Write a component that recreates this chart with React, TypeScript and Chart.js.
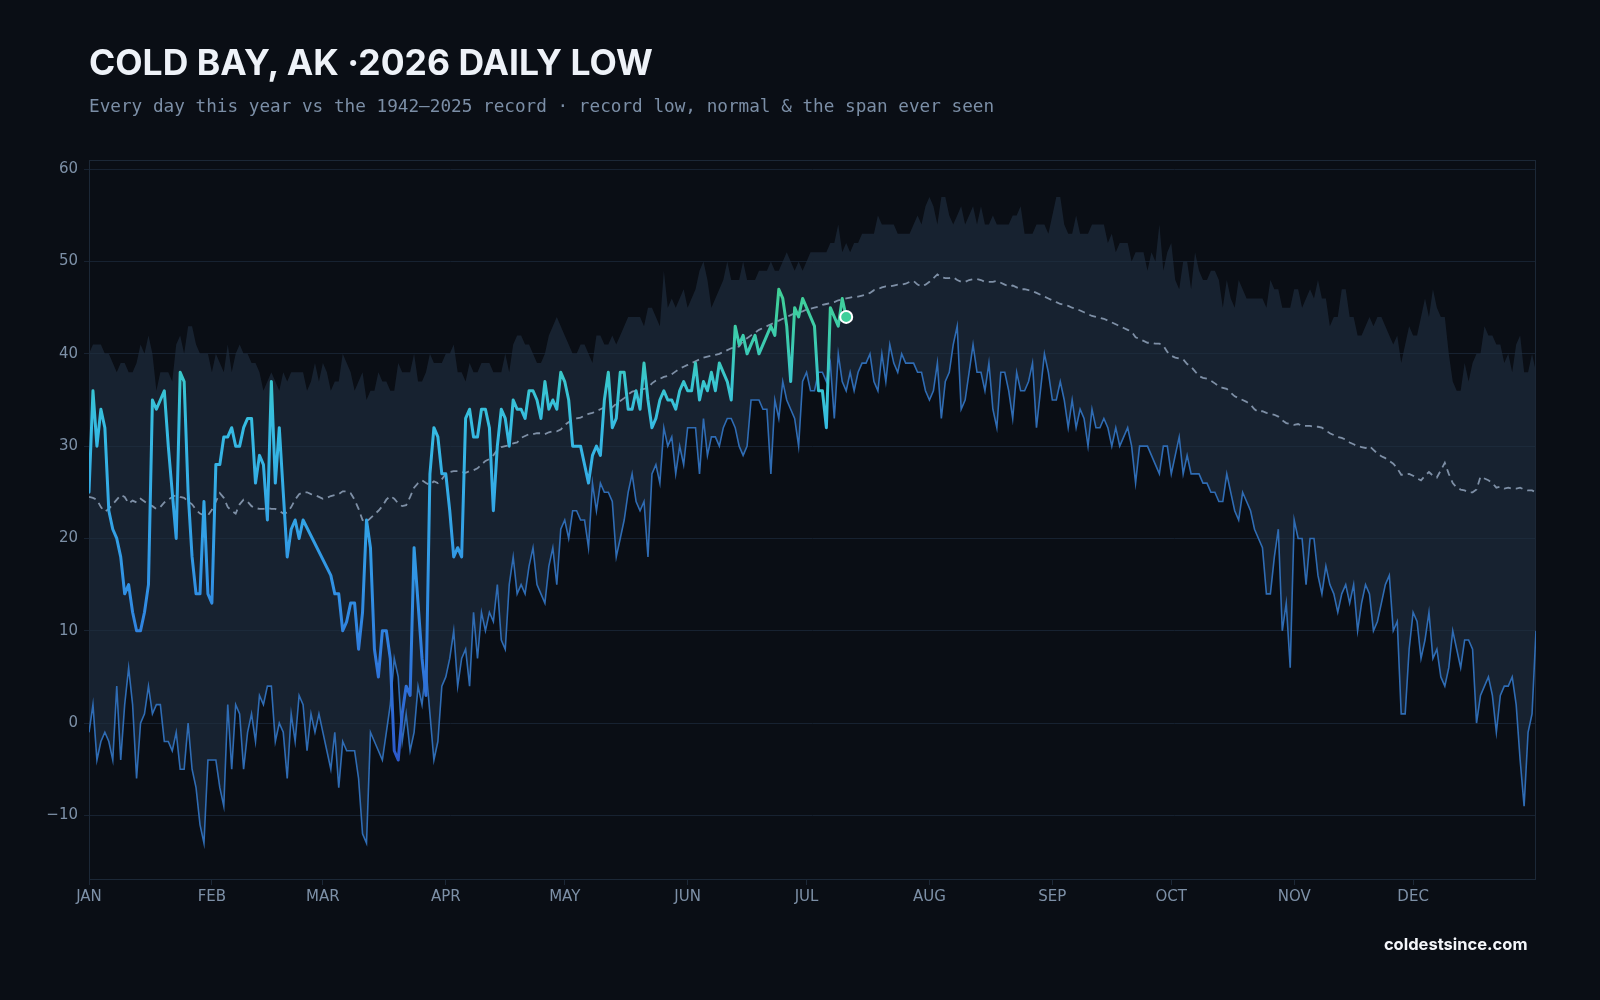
import React, { useEffect, useRef } from "react";
import { Chart, registerables } from "chart.js";

Chart.register(...registerables);

// ---- axis labels ---------------------------------------------------------
const MONTH_LABELS = ["JAN", "FEB", "MAR", "APR", "MAY", "JUN", "JUL", "AUG", "SEP", "OCT", "NOV", "DEC"];
const MONTH_START_DAYS = [0, 31, 59, 90, 120, 151, 181, 212, 243, 273, 304, 334];
const Y_TICK_VALUES = [-10, 0, 10, 20, 30, 40, 50, 60];

// ---- climatology by day of year (index 0 = Jan 1), °F ----------------------
// Warmest daily low on record (top of the shaded span)
const RECORD_HIGH = [
  40, 41, 41, 41, 40, 40, 39, 38, 39, 39,
  38, 38, 39, 41, 40, 42, 40, 36, 38, 38,
  38, 37, 41, 42, 40, 43, 43, 41, 40, 40,
  40, 38, 40, 39, 38, 41, 38, 40, 41, 40,
  40, 39, 39, 38, 36, 37, 38, 37, 36, 38,
  37, 38, 38, 38, 38, 36, 37, 39, 37, 39,
  38, 36, 37, 37, 40, 39, 38, 36, 37, 38,
  35, 36, 36, 38, 37, 37, 36, 36, 39, 38,
  38, 38, 40, 37, 37, 38, 40, 39, 39, 39,
  40, 40, 41, 38, 38, 37, 39, 38, 38, 39,
  39, 39, 38, 38, 38, 40, 38, 41, 42, 42,
  41, 41, 40, 39, 39, 40, 42, 43, 44, 43,
  42, 41, 40, 40, 41, 41, 40, 39, 42, 42,
  41, 41, 42, 41, 42, 43, 44, 44, 44, 44,
  43, 45, 45, 44, 43, 49, 45, 46, 45, 46,
  47, 45, 46, 47, 49, 50, 48, 45, 46, 47,
  48, 50, 48, 48, 48, 50, 48, 48, 48, 49,
  49, 49, 50, 49, 49, 50, 51, 50, 49, 50,
  49, 50, 51, 51, 51, 51, 51, 52, 52, 54,
  51, 52, 51, 52, 52, 53, 53, 53, 53, 55,
  54, 54, 54, 54, 53, 53, 53, 53, 54, 55,
  54, 56, 57, 56, 54, 57, 57, 55, 54, 55,
  56, 54, 55, 56, 54, 56, 54, 54, 55, 54,
  54, 54, 54, 55, 55, 56, 53, 53, 53, 54,
  54, 54, 53, 55, 57, 57, 54, 53, 53, 55,
  53, 53, 53, 54, 54, 54, 54, 52, 53, 51,
  52, 52, 52, 50, 51, 51, 51, 49, 51, 50,
  54, 49, 51, 52, 48, 47, 50, 50, 47, 51,
  49, 48, 48, 49, 49, 48, 45, 48, 46, 45,
  48, 47, 46, 46, 46, 46, 46, 45, 48, 47,
  47, 45, 45, 45, 47, 47, 45, 46, 47, 46,
  48, 46, 46, 43, 44, 44, 47, 47, 44, 44,
  42, 42, 43, 44, 43, 44, 44, 43, 42, 41,
  42, 39, 41, 43, 42, 42, 44, 46, 44, 47,
  45, 44, 44, 40, 37, 36, 36, 39, 37, 39,
  40, 40, 43, 42, 42, 41, 41, 39, 40, 38,
  41, 42, 38, 38, 40, 38,
];

// Coldest daily low on record
const RECORD_LOW = [
  -1, 2, -4, -2, -1, -2, -4, 4, -4, 2,
  6, 2, -6, 0, 1, 4, 1, 2, 2, -2,
  -2, -3, -1, -5, -5, 0, -5, -7, -11, -13,
  -4, -4, -4, -7, -9, 2, -5, 2, 1, -5,
  -1, 1, -2, 3, 2, 4, 4, -2, 0, -1,
  -6, 1, -2, 3, 2, -3, 1, -1, 1, -1,
  -3, -5, -1, -7, -2, -3, -3, -3, -6, -12,
  -13, -1, -2, -3, -4, -1, 2, 7, 5, -2,
  1, -3, -1, 4, 2, 6, 1, -4, -2, 4,
  5, 7, 10, 4, 7, 8, 4, 12, 7, 12,
  10, 12, 11, 15, 9, 8, 15, 18, 14, 15,
  14, 17, 19, 15, 14, 13, 17, 19, 15, 21,
  22, 20, 23, 23, 22, 22, 19, 26, 23, 26,
  25, 25, 24, 18, 20, 22, 25, 27, 24, 23,
  24, 18, 27, 28, 26, 32, 30, 31, 27, 30,
  28, 32, 32, 32, 27, 33, 29, 31, 31, 30,
  32, 33, 33, 32, 30, 29, 30, 35, 35, 35,
  34, 34, 27, 35, 33, 37, 35, 34, 33, 30,
  37, 38, 36, 36, 38, 38, 37, 39, 33, 40,
  37, 36, 38, 36, 38, 39, 39, 40, 37, 36,
  40, 37, 41, 39, 38, 40, 39, 39, 39, 38,
  38, 36, 35, 36, 39, 33, 37, 38, 41, 43,
  34, 35, 38, 41, 38, 38, 36, 39, 34, 32,
  38, 38, 36, 33, 38, 36, 36, 37, 39, 32,
  36, 40, 38, 35, 35, 37, 35, 32, 35, 32,
  34, 33, 30, 34, 32, 32, 33, 32, 30, 32,
  30, 31, 32, 30, 26, 30, 30, 30, 29, 28,
  27, 30, 30, 27, 29, 31, 27, 29, 27, 27,
  27, 26, 26, 25, 25, 24, 24, 27, 25, 23,
  22, 25, 24, 23, 21, 20, 19, 14, 14, 18,
  21, 10, 13, 6, 22, 20, 20, 15, 20, 20,
  16, 14, 17, 15, 14, 12, 14, 15, 13, 15,
  10, 13, 15, 14, 10, 11, 13, 15, 16, 10,
  11, 1, 1, 8, 12, 11, 7, 9, 12, 7,
  8, 5, 4, 6, 10, 8, 6, 9, 9, 8,
  0, 3, 4, 5, 3, -1, 3, 4, 4, 5,
  2, -4, -9, -1, 1, 10,
];

// Normal daily low
const NORMAL_LOW = [
  24.5, 24.4, 24.2, 23.4, 22.9, 23.2, 23.7, 24.2, 24.7, 24.5,
  23.8, 24.1, 23.9, 24.3, 24.0, 23.7, 23.5, 23.2, 23.4, 23.9,
  24.2, 24.5, 24.7, 24.5, 24.4, 24.0, 23.7, 23.1, 22.7, 22.5,
  22.5, 23.1, 24.0, 24.9, 24.4, 23.4, 23.0, 22.7, 23.7, 24.2,
  24.0, 23.5, 23.3, 23.2, 23.2, 23.3, 23.2, 23.2, 23.0, 22.7,
  22.8, 23.4, 24.2, 24.8, 25.0, 25.0, 24.8, 24.7, 24.5, 24.3,
  24.4, 24.6, 24.7, 24.8, 25.1, 25.1, 24.9, 24.2, 23.2, 22.0,
  21.8, 22.2, 22.6, 23.0, 23.5, 24.2, 24.6, 24.3, 23.8, 23.5,
  23.6, 24.5, 25.5, 26.0, 26.3, 26.0, 25.8, 26.2, 26.0, 26.4,
  27.0, 27.2, 27.3, 27.3, 27.2, 27.1, 27.3, 27.4, 27.6, 28.0,
  28.4, 28.6, 29.0, 29.6, 29.9, 30.0, 30.1, 30.3, 30.4, 30.9,
  31.1, 31.3, 31.3, 31.4, 31.4, 31.3, 31.5, 31.6, 31.6, 31.8,
  32.3, 32.6, 32.8, 33.0, 33.1, 33.3, 33.5, 33.6, 33.8, 34.0,
  34.2, 34.2, 34.2, 34.6, 34.9, 35.2, 35.6, 35.9, 36.0, 36.1,
  36.2, 36.3, 36.8, 37.1, 37.3, 37.5, 37.6, 37.8, 38.1, 38.4,
  38.6, 38.8, 39.0, 39.2, 39.4, 39.6, 39.7, 39.8, 39.9, 40.0,
  40.2, 40.4, 40.6, 40.7, 40.8, 41.4, 41.7, 42.0, 42.3, 42.6,
  42.8, 43.0, 43.2, 43.4, 43.6, 43.8, 44.0, 44.2, 44.4, 44.5,
  44.6, 44.8, 44.9, 45.0, 45.1, 45.3, 45.4, 45.5, 45.6, 45.8,
  45.9, 46.0, 46.1, 46.2, 46.2, 46.3, 46.4, 46.6, 46.9, 47.0,
  47.2, 47.3, 47.3, 47.4, 47.5, 47.5, 47.6, 47.8, 47.9, 47.5,
  47.3, 47.5, 47.8, 48.2, 48.6, 48.3, 48.2, 48.2, 48.3, 48.0,
  47.8, 47.8, 48.0, 48.1, 48.1, 48.0, 47.8, 47.8, 47.8, 47.9,
  47.7, 47.5, 47.3, 47.4, 47.2, 47.0, 47.0, 46.9, 46.8, 46.6,
  46.4, 46.2, 46.0, 45.8, 45.6, 45.4, 45.3, 45.2, 45.0, 44.9,
  44.7, 44.5, 44.3, 44.1, 44.0, 43.9, 43.8, 43.6, 43.4, 43.2,
  43.0, 42.8, 42.6, 42.4, 41.8, 41.6, 41.4, 41.2, 41.2, 41.1,
  41.1, 40.9, 40.2, 39.8, 39.6, 39.5, 39.4, 38.9, 38.6, 38.1,
  37.6, 37.4, 37.3, 37.1, 36.8, 36.5, 36.3, 36.2, 35.8, 35.4,
  35.2, 35.0, 34.8, 34.5, 34.0, 33.7, 33.8, 33.6, 33.5, 33.4,
  33.2, 32.8, 32.5, 32.4, 32.3, 32.4, 32.2, 32.2, 32.2, 32.1,
  32.1, 32.0, 31.7, 31.4, 31.2, 31.0, 30.9, 30.7, 30.4, 30.2,
  30.0, 29.9, 29.8, 30.0, 29.6, 29.2, 28.9, 28.7, 28.4, 28.1,
  27.6, 26.9, 26.9, 27.0, 26.8, 26.5, 26.3, 26.8, 27.2, 26.8,
  26.6, 27.4, 28.2, 27.0, 26.0, 25.5, 25.3, 25.2, 25.0, 25.0,
  25.3, 26.7, 26.5, 26.3, 26.0, 25.5, 25.6, 25.4, 25.5, 25.4,
  25.4, 25.5, 25.3, 25.2, 25.2, 25.0,
];

// 2026 observed daily lows so far (null = no report that day)
const LOW_2026 = [
  25, 36, 30, 34, 32, 23, 21, 20, 18, 14,
  15, 12, 10, 10, 12, 15, 35, 34, 35, 36,
  30, 25, 20, 38, 37, 25, 18, 14, 14, 24,
  14, 13, 28, 28, 31, 31, 32, 30, 30, 32,
  33, 33, 26, 29, 28, 22, 37, 26, 32, 25,
  18, 21, 22, 20, 22, null, null, null, null, null,
  null, 16, 14, 14, 10, 11, 13, 13, 8, 12,
  22, 19, 8, 5, 10, 10, 7, -3, -4, 1,
  4, 3, 19, 13, 7, 3, 27, 32, 31, 27,
  27, 23, 18, 19, 18, 33, 34, 31, 31, 34,
  34, 32, 23, 30, 34, 33, 30, 35, 34, 34,
  33, 36, 36, 35, 33, 37, 34, 35, 34, 38,
  37, 35, 30, 30, 30, 28, 26, 29, 30, 29,
  35, 38, 32, 33, 38, 38, 34, 34, 36, 34,
  39, 35, 32, 33, 35, 36, 35, 35, 34, 36,
  37, 36, 36, 39, 35, 37, 36, 38, 36, 39,
  38, 37, 35, 43, 41, 42, 40, 41, 42, 40,
  41, 42, 43, 42, 47, 46, 43, 37, 45, 44,
  46, 45, 44, 43, 36, 36, 32, 45, 44, 43,
  46, 44,
];

// ---- styling -------------------------------------------------------------
const BG = "#0a0e15";
const GRID = "#172231";
const FRAME = "#1c2837";
const TICK_COLOR = "#7d90a7";
const BAND_FILL = "rgba(33, 47, 64, 0.62)";
const RECORD_LOW_COLOR = "#2f6cb4";
const NORMAL_COLOR = "rgba(138, 156, 180, 0.9)";
const MARKER_FILL = "#3ecf9a";

// Colour ramp for the 2026 line, keyed by temperature (°F)
const TEMP_COLOR_STOPS: [number, string][] = [
  [-5, "#2c56c9"],
  [5, "#2f74da"],
  [15, "#3192e4"],
  [25, "#34abe6"],
  [32, "#36bbe2"],
  [37, "#39c6cf"],
  [41, "#3ccbb0"],
  [47, "#40d096"],
];

const toPoints = (values: (number | null)[]) => values.map((y, x) => ({ x, y }));

const lastIndex = LOW_2026.length - 1;

function tempGradient(ctx: any) {
  const chart = ctx.chart;
  const area = chart.chartArea;
  const yScale = chart.scales && chart.scales.y;
  if (!area || !yScale) return TEMP_COLOR_STOPS[4][1];
  const lo = TEMP_COLOR_STOPS[0][0];
  const hi = TEMP_COLOR_STOPS[TEMP_COLOR_STOPS.length - 1][0];
  const g = chart.ctx.createLinearGradient(0, yScale.getPixelForValue(lo), 0, yScale.getPixelForValue(hi));
  TEMP_COLOR_STOPS.forEach(([v, c]) => g.addColorStop((v - lo) / (hi - lo), c));
  return g;
}

// Thin rectangle around the plotting area
const framePlugin = {
  id: "plotFrame",
  beforeDatasetsDraw(chart: any) {
    const { ctx, chartArea: a } = chart;
    ctx.save();
    ctx.strokeStyle = FRAME;
    ctx.lineWidth = 1;
    ctx.strokeRect(a.left + 0.5, a.top + 0.5, a.width - 1, a.height - 1);
    ctx.restore();
  },
};

const tickFont = { family: "'DejaVu Sans', sans-serif", size: 15 };

export default function App() {
  const canvasRef = useRef<HTMLCanvasElement>(null);

  useEffect(() => {
    document.body.style.background = BG;
    const canvas = canvasRef.current;
    if (!canvas) return;

    const chart = new Chart(canvas, {
      type: "line",
      data: {
        datasets: [
          {
            label: "Record high",
            data: toPoints(RECORD_HIGH),
            borderWidth: 0,
            borderColor: "rgba(0,0,0,0)",
            backgroundColor: BAND_FILL,
            pointRadius: 0,
            fill: "+1",
            order: 5,
          },
          {
            label: "Record low",
            data: toPoints(RECORD_LOW),
            borderColor: RECORD_LOW_COLOR,
            borderWidth: 1.6,
            pointRadius: 0,
            fill: false,
            order: 4,
          },
          {
            label: "Normal",
            data: toPoints(NORMAL_LOW),
            borderColor: NORMAL_COLOR,
            borderWidth: 1.8,
            borderDash: [7, 5],
            pointRadius: 0,
            fill: false,
            order: 3,
          },
          {
            label: "2026",
            data: toPoints(LOW_2026),
            borderColor: tempGradient,
            borderWidth: 3,
            borderJoinStyle: "round",
            borderCapStyle: "round",
            pointRadius: 0,
            spanGaps: true,
            fill: false,
            order: 2,
          },
          {
            label: "Latest",
            data: [{ x: lastIndex, y: LOW_2026[lastIndex] }],
            showLine: false,
            pointRadius: 6,
            pointHoverRadius: 6,
            pointBackgroundColor: MARKER_FILL,
            pointBorderColor: "#ffffff",
            pointBorderWidth: 2,
            order: 1,
          },
        ],
      },
      options: {
        animation: false,
        responsive: false,
        devicePixelRatio: 1,
        events: [],
        layout: { padding: { left: 0, right: 64, top: 160, bottom: 80 } },
        plugins: {
          legend: { display: false },
          tooltip: { enabled: false },
          filler: { drawTime: "beforeDatasetsDraw" },
        },
        scales: {
          x: {
            type: "linear",
            min: 0,
            max: 365,
            afterFit: (s: any) => {
              s.height = 40;
            },
            afterBuildTicks: (s: any) => {
              s.ticks = MONTH_START_DAYS.map((value) => ({ value }));
            },
            ticks: {
              autoSkip: false,
              maxRotation: 0,
              padding: 3,
              color: TICK_COLOR,
              font: tickFont,
              callback: (v: any) => MONTH_LABELS[MONTH_START_DAYS.indexOf(Number(v))] ?? "",
            },
            grid: { drawOnChartArea: false, drawTicks: true, tickLength: 5, color: FRAME },
            border: { display: false },
          },
          y: {
            type: "linear",
            min: -17,
            max: 61,
            afterFit: (s: any) => {
              s.width = 89;
            },
            afterBuildTicks: (s: any) => {
              s.ticks = Y_TICK_VALUES.map((value) => ({ value }));
            },
            ticks: {
              padding: 6,
              color: TICK_COLOR,
              font: tickFont,
              callback: (v: any) => (Number(v) < 0 ? "\u2212" + Math.abs(Number(v)) : String(v)),
            },
            grid: { color: GRID, drawTicks: true, tickLength: 5 },
            border: { display: false },
          },
        },
      },
      plugins: [framePlugin],
    } as any);

    return () => chart.destroy();
  }, []);

  return (
    <div
      style={{
        position: "absolute",
        left: 0,
        top: 0,
        width: 1600,
        height: 1000,
        background: BG,
        overflow: "hidden",
      }}
    >
      <canvas
        ref={canvasRef}
        width={1600}
        height={1000}
        style={{ position: "absolute", left: 0, top: 0, width: 1600, height: 1000 }}
      />
      <div
        style={{
          position: "absolute",
          left: 89,
          top: 44.6,
          fontFamily: "Inter, sans-serif",
          fontWeight: 700,
          fontSize: 35.5,
          lineHeight: "36px",
          color: "#eef2f8",
          whiteSpace: "nowrap",
        }}
      >
        COLD BAY, AK ·2026 DAILY LOW
      </div>
      <div
        style={{
          position: "absolute",
          left: 89,
          top: 95.6,
          fontFamily: "'DejaVu Sans Mono', monospace",
          fontSize: 17.7,
          lineHeight: "20px",
          color: "#7b8ea6",
          whiteSpace: "nowrap",
        }}
      >
        Every day this year vs the 1942–2025 record · record low, normal &amp; the span ever seen
      </div>
      <div
        style={{
          position: "absolute",
          right: 72.5,
          top: 933.7,
          fontFamily: "Inter, sans-serif",
          fontWeight: 700,
          fontSize: 16.5,
          lineHeight: "20px",
          color: "#f4f6fa",
          whiteSpace: "nowrap",
        }}
      >
        coldestsince.com
      </div>
    </div>
  );
}
